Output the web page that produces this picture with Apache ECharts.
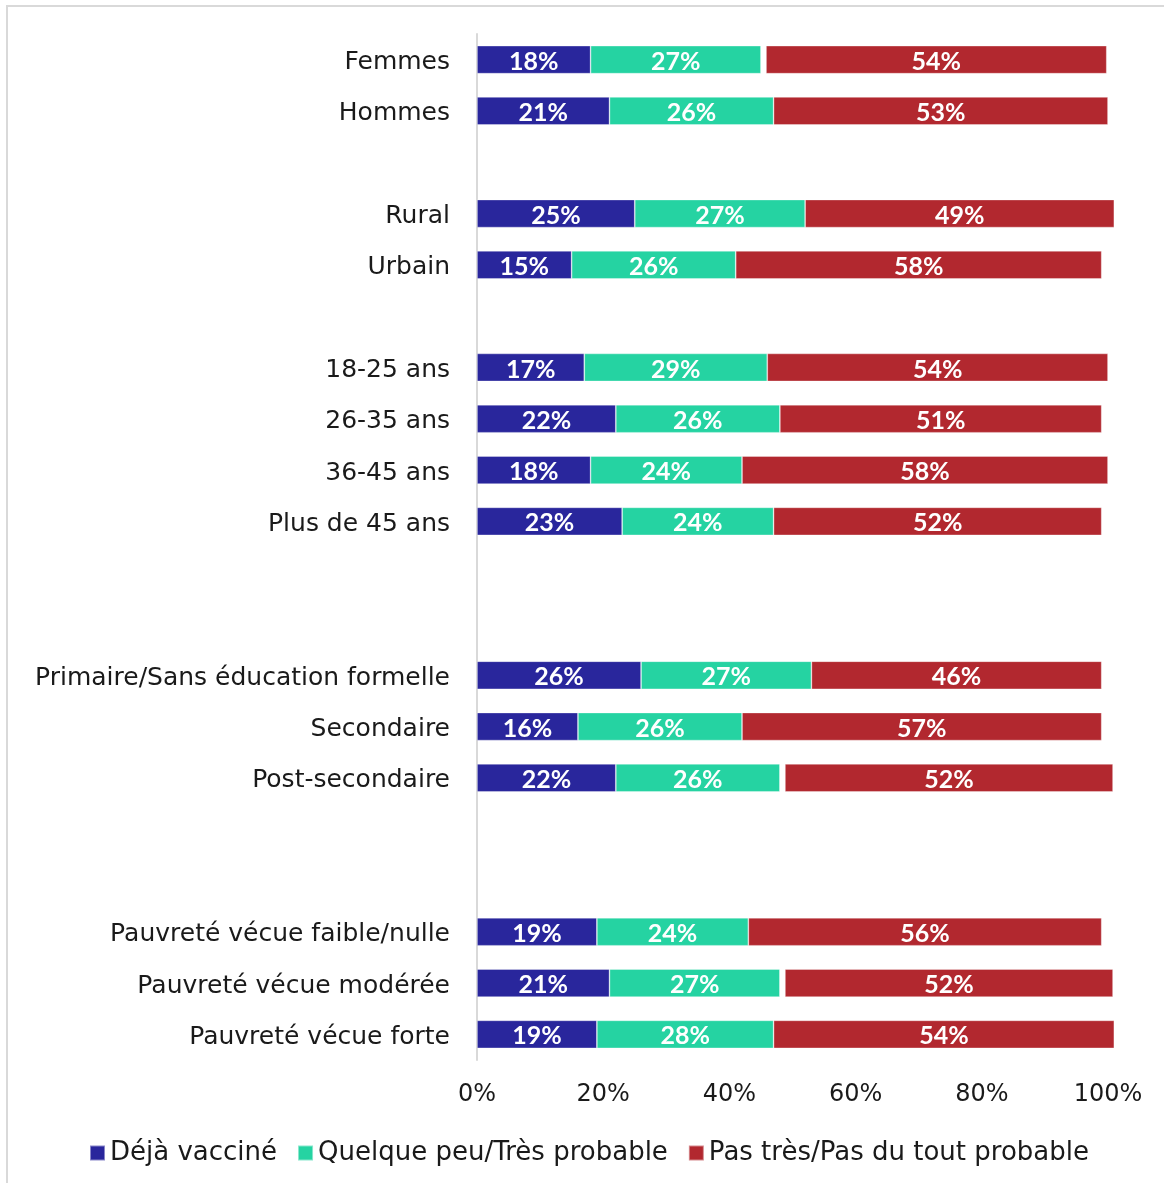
<!DOCTYPE html>
<html lang="fr">
<head>
<meta charset="utf-8">
<title>Statut vaccinal et intention de se faire vacciner</title>
<script src="https://cdn.jsdelivr.net/npm/echarts@6/dist/echarts.min.js"></script>
<style>
  html, body { margin: 0; padding: 0; background: #ffffff; }
  #chart { width: 1164px; height: 1183px; }
</style>
</head>
<body>
<div id="chart"></div>
<script>
// Groupes de répondants (les chaînes vides séparent les blocs)
const categories = [
  'Femmes', 'Hommes', '',
  'Rural', 'Urbain', '',
  '18-25 ans', '26-35 ans', '36-45 ans', 'Plus de 45 ans', '', '',
  'Primaire/Sans éducation formelle', 'Secondaire', 'Post-secondaire', '', '',
  'Pauvreté vécue faible/nulle', 'Pauvreté vécue modérée', 'Pauvreté vécue forte'
];

// Parts en pourcentage
const dejaVaccine = [18, 21, null, 25, 15, null, 17, 22, 18, 23, null, null, 26, 16, 22, null, null, 19, 21, 19];
const probable    = [27, 26, null, 27, 26, null, 29, 26, 24, 24, null, null, 27, 26, 26, null, null, 24, 27, 28];
const nonClasse   = [0.8, 0, null, 0, 0, null, 0, 0, 0, 0, null, null, 0, 0, 0.8, null, null, 0, 0.8, 0];
const improbable  = [54, 53, null, 49, 58, null, 54, 51, 58, 52, null, null, 46, 57, 52, null, null, 56, 52, 54];

const xTicks = [0, 20, 40, 60, 80, 100];
const legendNames = ['Déjà vacciné', 'Quelque peu/Très probable', 'Pas très/Pas du tout probable'];

const COLORS = { vaccine: '#29269c', probable: '#25d3a2', improbable: '#b2282f' };
const TEXT_FONT = "'DejaVu Sans', sans-serif";
const VALUE_FONT = "Lato, 'DejaVu Sans', sans-serif";

const chart = echarts.init(document.getElementById('chart'), null, { renderer: 'canvas' });

const valueLabel = {
  show: true,
  position: 'inside',
  offset: [0, 2],
  color: '#ffffff',
  fontFamily: VALUE_FONT,
  fontWeight: 'bold',
  fontSize: 25,
  formatter: p => (p.value == null ? '' : p.value + '%')
};

function barSeries(name, data, color, withLabel) {
  return {
    name: name,
    type: 'bar',
    stack: 'total',
    data: data,
    barWidth: 28,
    clip: false,
    silent: true,
    itemStyle: {
      color: color,
      borderColor: color === 'transparent' ? 'transparent' : 'rgba(255,255,255,0.45)',
      borderWidth: color === 'transparent' ? 0 : 0.75
    },
    label: withLabel ? valueLabel : { show: false },
    emphasis: { disabled: true }
  };
}

chart.setOption({
  animation: false,
  backgroundColor: '#ffffff',
  graphic: [{
    type: 'rect',
    silent: true,
    shape: { x: 7, y: 6, width: 1200, height: 1220 },
    style: { fill: 'none', stroke: '#d9d9d9', lineWidth: 2 }
  }],
  grid: {
    left: 477,
    right: 56,
    top: 34,
    height: 1026,
    containLabel: false
  },
  legend: {
    data: legendNames,
    left: 84,
    top: 1135,
    icon: 'rect',
    itemWidth: 15,
    itemHeight: 15,
    itemGap: 20,
    selectedMode: false,
    textStyle: { fontFamily: TEXT_FONT, fontSize: 26, color: '#1a1a1a', padding: [3, 0, 0, 0] }
  },
  xAxis: {
    type: 'value',
    min: xTicks[0],
    max: xTicks[xTicks.length - 1],
    interval: 20,
    axisLine: { show: false },
    axisTick: { show: false },
    splitLine: { show: false },
    axisLabel: {
      margin: 23,
      fontFamily: TEXT_FONT,
      fontSize: 24,
      color: '#1a1a1a',
      formatter: v => (xTicks.includes(v) ? v + '%' : '')
    }
  },
  yAxis: {
    type: 'category',
    data: categories,
    inverse: true,
    axisLine: { show: true, lineStyle: { color: '#d9d9d9', width: 2 } },
    axisTick: { show: false },
    axisLabel: {
      margin: 27,
      interval: 0,
      formatter: v => (v ? '{cat|' + v + '}' : ''),
      rich: {
        cat: {
          fontFamily: TEXT_FONT,
          fontSize: 25,
          color: '#1a1a1a',
          padding: [6, 0, 0, 0]
        }
      }
    }
  },
  series: [
    barSeries(legendNames[0], dejaVaccine, COLORS.vaccine, true),
    barSeries(legendNames[1], probable, COLORS.probable, true),
    barSeries('Non classé', nonClasse, 'transparent', false),
    barSeries(legendNames[2], improbable, COLORS.improbable, true)
  ]
});
</script>
</body>
</html>
